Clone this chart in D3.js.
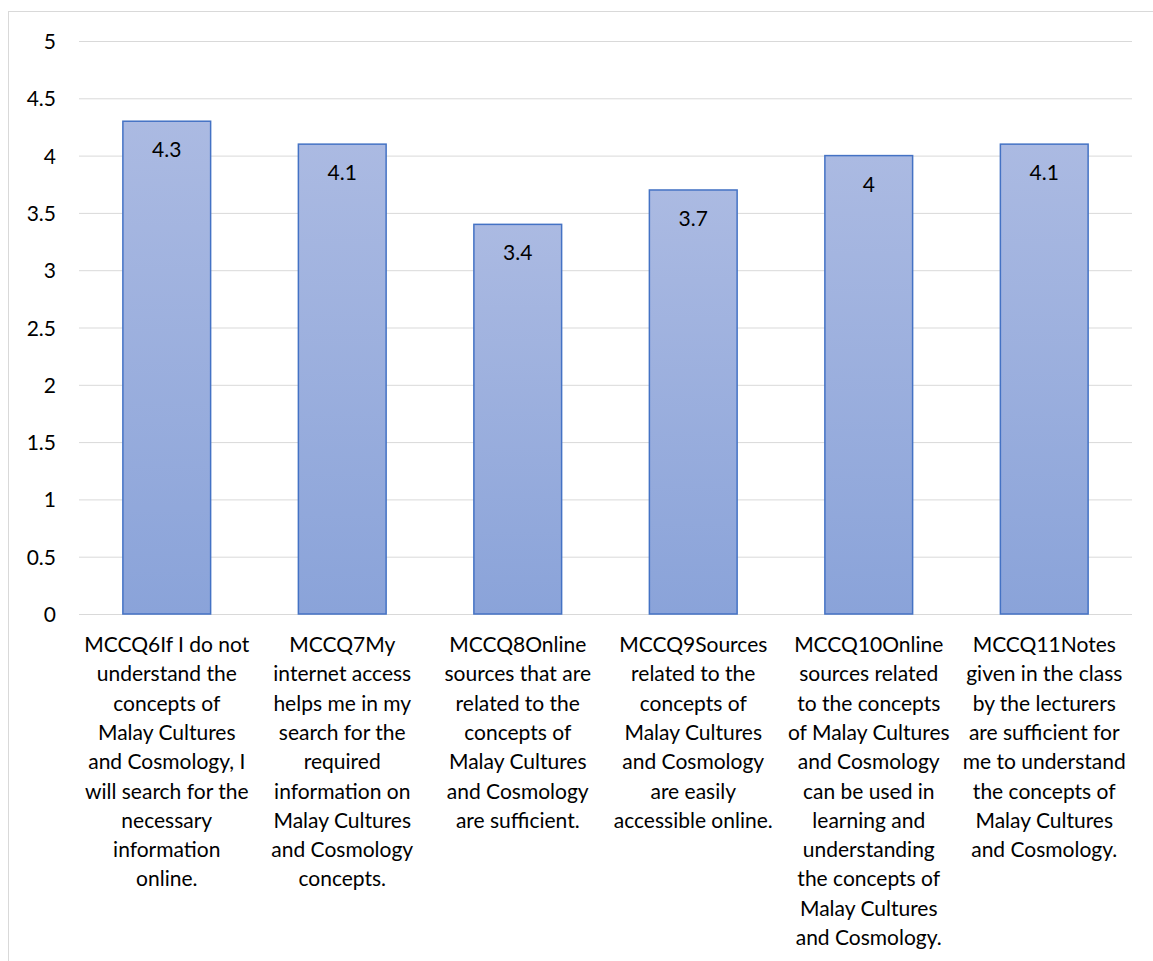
<!DOCTYPE html>
<html>
<head>
<meta charset="utf-8">
<script src="https://cdnjs.cloudflare.com/ajax/libs/d3/7.8.5/d3.min.js"></script>
<style>
    body { margin: 0; background: #fff; }
    text { font-family: Lato, "Open Sans", sans-serif; fill: #000; }
</style>
</head>
<body>
<div id="chart1"></div>
<script>
let categories = ["MCCQ6", "MCCQ7", "MCCQ8", "MCCQ9", "MCCQ10", "MCCQ11"];
let scores = [4.3, 4.1, 3.4, 3.7, 4, 4.1];
let yTicks = [0, 0.5, 1, 1.5, 2, 2.5, 3, 3.5, 4, 4.5, 5];
let labelLines = [
    ["MCCQ6If I do not", "understand the", "concepts of", "Malay Cultures", "and Cosmology, I", "will search for the", "necessary", "information", "online."],
    ["MCCQ7My", "internet access", "helps me in my", "search for the", "required", "information on", "Malay Cultures", "and Cosmology", "concepts."],
    ["MCCQ8Online", "sources that are", "related to the", "concepts of", "Malay Cultures", "and Cosmology", "are sufficient."],
    ["MCCQ9Sources", "related to the", "concepts of", "Malay Cultures", "and Cosmology", "are easily", "accessible online."],
    ["MCCQ10Online", "sources related", "to the concepts", "of Malay Cultures", "and Cosmology", "can be used in", "learning and", "understanding", "the concepts of", "Malay Cultures", "and Cosmology."],
    ["MCCQ11Notes", "given in the class", "by the lecturers", "are sufficient for", "me to understand", "the concepts of", "Malay Cultures", "and Cosmology."]
];

barchart('#chart1');

function barchart(selector) {
    let margin = { top: 41, right: 21, bottom: 347, left: 79 },
        width = 1153 - margin.left - margin.right,
        height = 961 - margin.top - margin.bottom;

    let root = d3.select(selector)
        .append("svg")
        .attr("width", 1153)
        .attr("height", 961);

    // chart area border
    root.append("rect")
        .attr("x", 8.5)
        .attr("y", 11.5)
        .attr("width", 1160)
        .attr("height", 1000)
        .attr("fill", "none")
        .attr("stroke", "#d9d9d9");

    let defs = root.append("defs");
    let grad = defs.append("linearGradient")
        .attr("id", "barGrad")
        .attr("x1", 0).attr("y1", 0)
        .attr("x2", 0).attr("y2", 1);
    grad.append("stop").attr("offset", "0%").attr("stop-color", "#abbae2");
    grad.append("stop").attr("offset", "100%").attr("stop-color", "#8aa3d9");

    let svg = root.append("g")
        .attr("transform", "translate(" + margin.left + "," + margin.top + ")");

    let x = d3.scaleBand()
        .range([0, width])
        .domain(categories)
        .paddingInner(0.5)
        .paddingOuter(0.25);

    let y = d3.scaleLinear()
        .domain([0, 5])
        .range([height, 0]);

    let yAxis = svg.append("g")
        .call(d3.axisLeft(y)
            .tickValues(yTicks)
            .tickSize(-width)
            .tickPadding(23)
            .tickFormat(d => String(d)));
    yAxis.select(".domain").remove();
    yAxis.selectAll("line").attr("stroke", "#d9d9d9");
    yAxis.selectAll("text")
        .style("font-size", "21px")
        .attr("dy", "0.36em");

    svg.selectAll(".bar")
        .data(scores)
        .enter()
        .append("rect")
        .attr("class", "bar")
        .attr("x", (d, i) => x(categories[i]))
        .attr("width", x.bandwidth())
        .attr("y", d => y(d))
        .attr("height", d => height - y(d))
        .attr("fill", "url(#barGrad)")
        .attr("stroke", "#4472c4")
        .attr("stroke-width", 1.5);

    svg.selectAll(".val")
        .data(scores)
        .enter()
        .append("text")
        .attr("class", "val")
        .attr("x", (d, i) => x(categories[i]) + x.bandwidth() / 2)
        .attr("y", d => y(d) + 36)
        .style("text-anchor", "middle")
        .style("font-size", "21px")
        .text(d => d);

    let labels = svg.selectAll(".cat")
        .data(labelLines)
        .enter()
        .append("text")
        .attr("class", "cat")
        .style("text-anchor", "middle")
        .style("font-size", "21px")
        .attr("transform", (d, i) => "translate(" + (x(categories[i]) + x.bandwidth() / 2) + "," + (height + 38) + ")");

    labels.selectAll("tspan")
        .data(d => d)
        .enter()
        .append("tspan")
        .attr("x", 0)
        .attr("y", (d, i) => i * 29.3)
        .text(d => d);
}
</script>
</body>
</html>
